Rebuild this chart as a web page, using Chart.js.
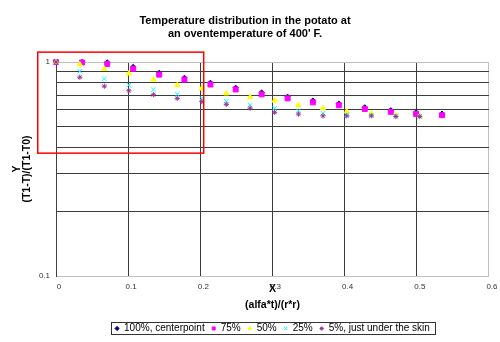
<!DOCTYPE html>
<html>
<head>
<meta charset="utf-8">
<script src="https://cdn.jsdelivr.net/npm/chart.js@4/dist/chart.umd.min.js"></script>
<style>
  html, body { margin: 0; padding: 0; background: #ffffff; }
  canvas { display: block; }
</style>
</head>
<body>
<canvas id="c" width="500" height="342" style="width:500px;height:342px"></canvas>
<script>
// ---------- data ----------
const titleLines = ['Temperature distribution in the potato at', "an oventemperature of 400' F."];
const seriesNames = ['100%, centerpoint', '75%', '50%', '25%', '5%, just under the skin'];

// x positions (two sampling grids)
const xOuter = [0, 0.036, 0.071, 0.107, 0.143, 0.178, 0.214, 0.249, 0.285, 0.321, 0.356, 0.392, 0.428, 0.464, 0.499, 0.535];
const xInner = [0, 0.033, 0.067, 0.101, 0.135, 0.168, 0.202, 0.236, 0.269, 0.303, 0.336, 0.370, 0.403, 0.437, 0.471, 0.504];

const y100 = [1.0, 1.0, 0.995, 0.948, 0.89, 0.843, 0.80, 0.758, 0.72, 0.688, 0.66, 0.639, 0.614, 0.595, 0.582, 0.574];
const y75  = [1.0, 0.995, 0.979, 0.931, 0.873, 0.828, 0.785, 0.744, 0.706, 0.676, 0.648, 0.628, 0.603, 0.585, 0.572, 0.564];
const y50  = [1.0, 0.975, 0.928, 0.883, 0.828, 0.779, 0.752, 0.713, 0.686, 0.66, 0.628, 0.608, 0.587, 0.576, 0.564, 0.558];
const y25  = [1.0, 0.905, 0.834, 0.779, 0.742, 0.706, 0.676, 0.655, 0.628, 0.608, 0.591, 0.576, 0.568, 0.564, 0.56, 0.558];
const y5   = [1.0, 0.849, 0.771, 0.734, 0.703, 0.676, 0.653, 0.634, 0.608, 0.582, 0.571, 0.56, 0.56, 0.56, 0.556, 0.556];

const xTickValues = [0, 0.1, 0.2, 0.3, 0.4, 0.5, 0.6];
const xTickLabels = ['0', '0.1', '0.2', '0.3', '0.4', '0.5', '0.6'];
const yGridValues = [0.1, 0.2, 0.3, 0.4, 0.5, 0.6, 0.7, 0.8, 0.9, 1];
const yTickValues = [0.1, 1];
const yTickLabels = ['0.1', '1'];

// red highlight box (in data units)
const zoomBoxX = [-0.0253, 0.2047];
const zoomBoxY = [0.375, 1.112];

// ---------- chart ----------
const FONT = 'Liberation Sans, Arial, sans-serif';
const pts = (xs, ys) => xs.map((x, i) => ({ x: x, y: ys[i] }));

function ds(label, data, color, style, radius, order, bw) {
  return {
    label: label, data: data, order: order,
    showLine: false, clip: false,
    pointStyle: style, pointRadius: radius, pointHoverRadius: radius,
    backgroundColor: color, borderColor: color,
    pointBackgroundColor: color, pointBorderColor: color,
    pointBorderWidth: bw
  };
}

const datasets = [
  ds(seriesNames[0], pts(xOuter, y100), '#000080', 'rectRot', 2.6, 5, 1),
  ds(seriesNames[1], pts(xOuter, y75),  '#FF00FF', 'rect', 3.5, 4, 1),
  ds(seriesNames[2], pts(xInner, y50),  '#FFFF00', 'triangle', 3, 3, 1),
  ds(seriesNames[3], pts(xInner, y25),  '#00FFFF', 'crossRot', 3.2, 2, 1),
  ds(seriesNames[4], pts(xInner, y5),   '#993399', 'star', 2.6, 1, 1)
];

function near(a, b) { return Math.abs(a - b) < 1e-6; }

const decorPlugin = {
  id: 'decor',
  afterDraw(chart) {
    const ctx = chart.ctx;
    // legend frame
    const hb = chart.legend && chart.legend.legendHitBoxes;
    if (hb && hb.length) {
      const first = hb[0], last = hb[hb.length - 1];
      const cy = first.top + first.height / 2;
      ctx.save();
      ctx.strokeStyle = '#333333';
      ctx.lineWidth = 1;
      const l = Math.round(first.left - 4) + 0.5;
      const r = Math.round(last.left + last.width + 5) + 0.5;
      const t = Math.round(cy - 6.5) + 0.5;
      const b = Math.round(cy + 5.5) + 0.5;
      ctx.strokeRect(l, t, r - l, b - t);
      ctx.restore();
    }
    // red highlight box
    const xs = chart.scales.x, ys = chart.scales.y;
    const x0 = xs.getPixelForValue(zoomBoxX[0]), x1 = xs.getPixelForValue(zoomBoxX[1]);
    const y0 = ys.getPixelForValue(zoomBoxY[1]), y1 = ys.getPixelForValue(zoomBoxY[0]);
    ctx.save();
    ctx.strokeStyle = '#FF0000';
    ctx.lineWidth = 1.5;
    ctx.strokeRect(x0, y0, x1 - x0, y1 - y0);
    ctx.restore();
  }
};

new Chart(document.getElementById('c'), {
  type: 'scatter',
  data: { datasets: datasets },
  plugins: [decorPlugin],
  options: {
    responsive: false,
    animation: false,
    devicePixelRatio: 1,
    layout: { padding: { left: 0, right: 10, top: 0, bottom: -1.5 } },
    plugins: {
      tooltip: { enabled: false },
      title: {
        display: true,
        text: titleLines,
        color: '#000000',
        font: { family: FONT, size: 11, weight: 'bold', lineHeight: 13 / 11 },
        padding: { top: 14.5, bottom: 21.5 }
      },
      legend: {
        position: 'bottom',
        fullSize: false,
        labels: {
          usePointStyle: true,
          boxWidth: 4,
          boxHeight: 3,
          padding: 7,
          color: '#000000',
          font: { family: FONT, size: 10 },
          sort: (a, b) => a.datasetIndex - b.datasetIndex
        }
      }
    },
    scales: {
      x: {
        type: 'linear',
        min: 0, max: 0.6,
        afterFit: (s) => { s.height = 40.5; },
        afterBuildTicks: (s) => { s.ticks = xTickValues.map(v => ({ value: v })); },
        ticks: {
          autoSkip: false,
          padding: 5.5,
          labelOffset: 3,
          color: '#333333',
          font: { family: FONT, size: 8 },
          callback: (v) => { const i = xTickValues.findIndex(t => near(t, v)); return i >= 0 ? xTickLabels[i] : ''; }
        },
        grid: {
          drawTicks: false,
          lineWidth: 1,
          color: (c) => (c.tick && near(c.tick.value, 0.6)) ? '#c0c0c0' : '#3c3c3c'
        },
        border: { display: true, color: '#c0c0c0', width: 1 },
        title: {
          display: true,
          text: ['X', '(alfa*t)/(r*r)'],
          color: '#000000',
          font: { family: FONT, size: 10.5, weight: 'bold', lineHeight: 16 / 10.5 },
          padding: { top: 0, bottom: 3.5 }
        }
      },
      y: {
        type: 'logarithmic',
        min: 0.1, max: 1,
        afterFit: (s) => { s.width = 56; },
        afterBuildTicks: (s) => { s.ticks = yGridValues.map(v => ({ value: v })); },
        ticks: {
          autoSkip: false,
          padding: 6,
          color: '#333333',
          font: { family: FONT, size: 8 },
          callback: (v) => { const i = yTickValues.findIndex(t => near(t, v)); return i >= 0 ? yTickLabels[i] : ''; }
        },
        grid: {
          drawTicks: false,
          lineWidth: 1,
          color: (c) => (c.tick && (near(c.tick.value, 1) || near(c.tick.value, 0.1))) ? '#c0c0c0' : '#3c3c3c'
        },
        border: { display: true, color: '#404040', width: 1 },
        title: {
          display: true,
          text: ['Y', '(T1-T)/(T1-T0)'],
          color: '#000000',
          font: { family: FONT, size: 10.5, weight: 'bold', lineHeight: 10.5 / 10.5 },
          padding: { top: 11.5, bottom: 0 }
        }
      }
    }
  }
});
</script>
</body>
</html>
